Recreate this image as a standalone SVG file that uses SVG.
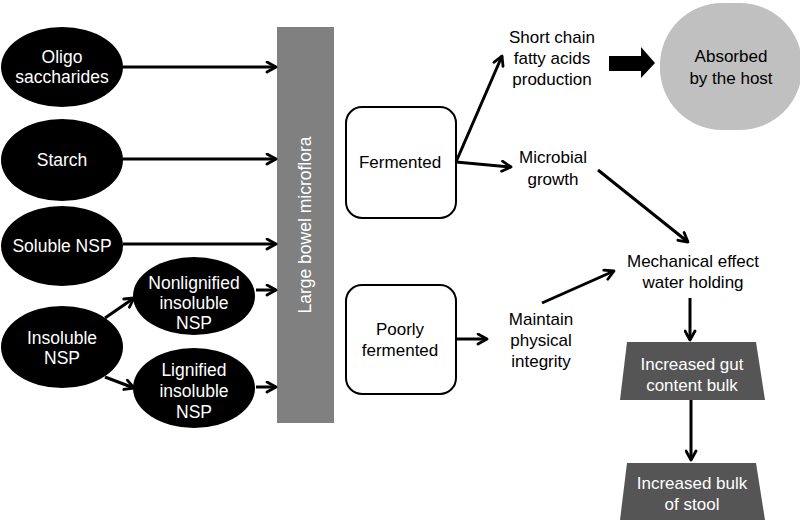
<svg xmlns="http://www.w3.org/2000/svg" width="800" height="524" viewBox="0 0 800 524">
<defs>
<marker id="ah" viewBox="0 0 13 13" refX="11" refY="6.5" markerWidth="13" markerHeight="13" markerUnits="userSpaceOnUse" orient="auto">
<path d="M2,1.5 L11,6.5 L2,11.5" fill="none" stroke="#000" stroke-width="2.8" stroke-linecap="round" stroke-linejoin="round"/>
</marker>
<style>
text{font-family:"Liberation Sans",Arial,sans-serif;font-size:17px;text-anchor:middle}
.w{fill:#fff}
.k{fill:#000}
.e{font-size:17.5px}
.ell{fill:#000}
.box{fill:#fff;stroke:#000;stroke-width:2}
.trap{fill:#555}
.c line{stroke:#000;stroke-width:3;fill:none;marker-end:url(#ah)}
</style>
</defs>
<rect width="800" height="524" fill="#fff"/>

<g id="oligo"><ellipse class="ell" cx="62" cy="67" rx="61" ry="40"/><text class="w e" x="62" y="63">Oligo</text><text class="w e" x="62" y="83">saccharides</text></g>
<g id="starch"><ellipse class="ell" cx="62" cy="160" rx="61" ry="41"/><text class="w e" x="62" y="166">Starch</text></g>
<g id="soluble"><ellipse class="ell" cx="62" cy="246" rx="61" ry="40"/><text class="w e" x="62" y="252">Soluble NSP</text></g>
<g id="insoluble"><ellipse class="ell" cx="62" cy="347" rx="61" ry="41"/><text class="w e" x="62" y="344">Insoluble</text><text class="w e" x="62" y="364">NSP</text></g>
<g id="nonlignified"><ellipse class="ell" cx="194" cy="296" rx="61" ry="39"/><text class="w e" x="194" y="289">Nonlignified</text><text class="w e" x="194" y="309">insoluble</text><text class="w e" x="194" y="329">NSP</text></g>
<g id="lignified"><ellipse class="ell" cx="194" cy="388" rx="61" ry="40"/><text class="w e" x="194" y="376">Lignified</text><text class="w e" x="194" y="397">insoluble</text><text class="w e" x="194" y="418">NSP</text></g>

<g id="microflora"><rect x="277" y="27" width="57" height="396" fill="#808080"/><text class="w" transform="translate(311,225) rotate(-90)" style="font-size:17.5px">Large bowel microflora</text></g>

<g id="fermented"><rect class="box" x="346" y="107" width="110" height="111" rx="16"/><text class="k" x="400" y="168">Fermented</text></g>
<g id="poorly"><rect class="box" x="346" y="285" width="110" height="109" rx="16"/><text class="k" x="400" y="335">Poorly</text><text class="k" x="400" y="356">fermented</text></g>

<g id="scfa"><text class="k" x="552" y="43">Short chain</text><text class="k" x="552" y="64">fatty acids</text><text class="k" x="552" y="85">production</text></g>
<g id="absorbed"><rect x="660" y="3" width="142" height="127" rx="62" fill="#c0c0c0"/><text class="k" x="731" y="62">Absorbed</text><text class="k" x="731" y="84">by the host</text></g>
<g id="microbial"><text class="k" x="553" y="163">Microbial</text><text class="k" x="553" y="185">growth</text></g>
<g id="mechanical"><text class="k" x="693" y="267">Mechanical effect</text><text class="k" x="693" y="288">water holding</text></g>
<g id="maintain"><text class="k" x="541" y="325">Maintain</text><text class="k" x="541" y="346">physical</text><text class="k" x="541" y="367">integrity</text></g>
<g id="gutbulk"><polygon class="trap" points="627,342 756,342 765,400 620,400"/><text class="w" x="692" y="370">Increased gut</text><text class="w" x="692" y="391">content bulk</text></g>
<g id="stool"><polygon class="trap" points="627,463 756,463 765,520 620,520"/><text class="w" x="692" y="489">Increased bulk</text><text class="w" x="692" y="510">of stool</text></g>

<g id="connectors" class="c">
<line x1="123" y1="67" x2="276" y2="67"/>
<line x1="123" y1="159" x2="276" y2="159"/>
<line x1="123" y1="244" x2="276" y2="244"/>
<line x1="256" y1="290" x2="276" y2="290"/>
<line x1="256" y1="387" x2="276" y2="387"/>
<line x1="105" y1="318" x2="134" y2="298"/>
<line x1="105" y1="377" x2="134" y2="388"/>
<line x1="456" y1="162" x2="502" y2="56"/>
<line x1="456" y1="162" x2="511" y2="167"/>
<line x1="598" y1="170" x2="688" y2="242"/>
<line x1="456" y1="339" x2="487" y2="339"/>
<line x1="542" y1="303" x2="614" y2="271"/>
<line x1="690" y1="298" x2="690" y2="340"/>
<line x1="691" y1="400" x2="691" y2="460"/>
<path d="M609,56 H641 V47 L655,63 L641,78 V71 H609 Z" fill="#000"/>
</g>
</svg>
